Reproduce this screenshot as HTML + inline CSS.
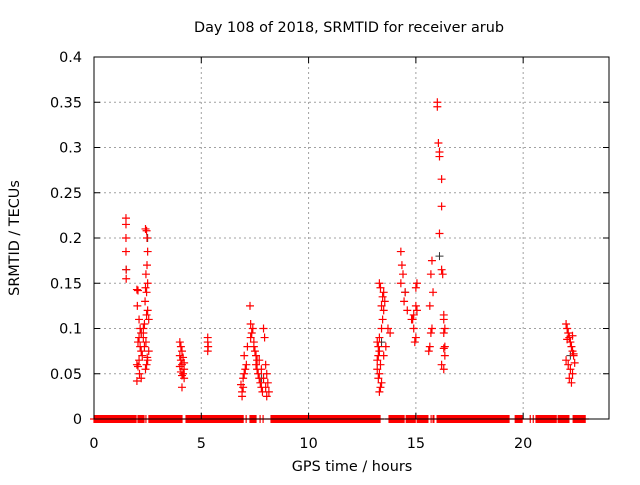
<!DOCTYPE html>
<html><head><meta charset="utf-8"><style>
body{margin:0;background:#fff}
svg text{font-family:"DejaVu Sans","Liberation Sans",sans-serif;font-size:14.4px;fill:#000}
</style></head><body>
<svg id="chart" width="640" height="480" viewBox="0 0 640 480" xmlns="http://www.w3.org/2000/svg">
<rect width="640" height="480" fill="#fff"/>
<text x="349" y="32" text-anchor="middle">Day 108 of 2018, SRMTID for receiver arub</text>
<text x="352" y="471" text-anchor="middle">GPS time / hours</text>
<text transform="translate(19,238) rotate(-90)" text-anchor="middle">SRMTID / TECUs</text>
<g id="grid"></g><g id="marks"></g><g id="axes"></g>
</svg>
<script>
const xTicks=[0,5,10,15,20];
const yTicks=[0,0.05,0.1,0.15,0.2,0.25,0.3,0.35,0.4];
const yTickLabels=["0","0.05","0.1","0.15","0.2","0.25","0.3","0.35","0.4"];
const zeroRanges=[[0,1.96],[2.05,2.33],[2.42,2.42],[2.56,4.1],[4.29,6.95],[7.09,7.09],[7.27,7.55],[7.74,7.74],[7.88,7.88],[8.25,8.86],[8.9,9.46],[9.51,13.33],[13.75,14.45],[14.55,14.97],[15.06,15.57],[15.71,15.71],[15.8,15.85],[15.99,16.32],[16.36,19.35],[19.63,19.95],[20.33,20.33],[20.47,20.47],[20.6,21.54],[21.63,22.14],[22.33,22.89]];
const redT=[1.49,1.49,1.49,1.49,1.5,1.5,2.0,2.05,2.02,2.1,2.15,2.2,2.1,2.05,2.15,2.2,2.25,2.1,2.0,2.05,2.12,2.2,2.0,2.3,2.3,2.35,2.4,2.45,2.47,2.5,2.47,2.42,2.5,2.4,2.45,2.38,2.5,2.45,2.3,2.42,2.35,2.55,2.5,2.4,2.45,2.55,2.48,
4.0,4.05,4.1,4.0,4.15,4.05,4.2,4.1,4.0,4.2,4.05,4.15,4.1,4.2,4.1,5.3,5.3,5.32,5.3,
6.85,6.9,6.95,7.0,7.05,6.9,7.1,7.0,7.15,6.95,7.27,7.3,7.35,7.4,7.45,7.3,7.5,7.55,7.6,7.65,7.7,7.75,7.8,7.7,7.85,7.9,7.95,8.0,7.8,8.05,7.9,8.1,8.0,8.15,8.05,7.6,7.55,7.45,
13.2,13.25,13.3,13.35,13.2,13.3,13.25,13.4,13.35,13.3,13.25,13.2,13.3,13.4,13.45,13.5,13.55,13.4,13.5,13.35,13.45,13.3,13.5,13.6,13.7,13.8,
14.3,14.35,14.4,14.3,14.5,14.45,14.6,14.8,14.9,15.0,14.95,15.05,15.0,14.9,15.0,15.05,14.85,
15.6,15.65,15.7,15.75,15.8,15.65,15.7,15.75,16.0,16.0,16.05,16.1,16.1,16.2,16.2,16.1,16.2,16.25,16.3,16.3,16.35,16.3,16.35,16.3,16.35,16.3,16.2,
22.0,22.05,22.1,22.15,22.2,22.25,22.3,22.35,22.0,22.1,22.2,22.3,22.15,22.25,22.05,22.35,22.4,22.3];
const redV=[0.222,0.215,0.2,0.185,0.165,0.155,0.143,0.142,0.125,0.11,0.1,0.095,0.09,0.085,0.08,0.075,0.07,0.065,0.06,0.058,0.05,0.045,0.042,0.095,0.1,0.105,0.21,0.208,0.2,0.185,0.17,0.16,0.15,0.145,0.14,0.13,0.12,0.115,0.09,0.085,0.08,0.075,0.065,0.055,0.06,0.11,0.068,
0.085,0.08,0.075,0.07,0.068,0.065,0.062,0.06,0.058,0.055,0.052,0.05,0.048,0.045,0.035,0.09,0.085,0.08,0.075,
0.038,0.03,0.045,0.05,0.055,0.025,0.06,0.07,0.08,0.035,0.125,0.105,0.095,0.1,0.085,0.09,0.075,0.06,0.055,0.05,0.045,0.04,0.035,0.065,0.03,0.1,0.09,0.06,0.055,0.05,0.045,0.04,0.035,0.03,0.025,0.065,0.07,0.08,
0.065,0.07,0.075,0.06,0.055,0.05,0.045,0.04,0.035,0.03,0.08,0.085,0.09,0.1,0.11,0.12,0.13,0.125,0.14,0.145,0.135,0.15,0.07,0.08,0.1,0.095,
0.185,0.17,0.16,0.15,0.14,0.13,0.12,0.11,0.1,0.09,0.085,0.12,0.125,0.115,0.145,0.15,0.11,
0.075,0.08,0.095,0.1,0.14,0.125,0.16,0.175,0.35,0.345,0.305,0.295,0.29,0.265,0.235,0.205,0.165,0.16,0.115,0.11,0.1,0.095,0.08,0.078,0.07,0.055,0.06,
0.105,0.1,0.095,0.09,0.085,0.08,0.075,0.07,0.065,0.06,0.055,0.05,0.045,0.04,0.088,0.072,0.062,0.092];
const blackT=[1.5,2.5,2.2,7.8,13.4,14.5,16.1,22.2];
const blackV=[0.165,0.2,0.095,0.045,0.085,0.14,0.18,0.07];
const X0=94,X1=609,Y0=419,Y1=57,XMAX=24,YMAX=0.4;
const sx=t=>X0+(X1-X0)*t/XMAX, sy=v=>Y0-(Y0-Y1)*v/YMAX;
const NS="http://www.w3.org/2000/svg";
function mk(tag,attrs,parent){const e=document.createElementNS(NS,tag);for(const k in attrs)e.setAttribute(k,attrs[k]);parent.appendChild(e);return e;}
const grid=document.getElementById('grid'),marks=document.getElementById('marks'),axes=document.getElementById('axes');
xTicks.forEach(t=>{
 if(t>0){const g=mk('line',{x1:sx(t),x2:sx(t),y1:Y1,y2:Y0,stroke:'#a0a0a0','stroke-dasharray':'2,3'},grid);
 
 }
 const tk=mk('path',{d:`M${sx(t)},${Y0}v-6M${sx(t)},${Y1}v6`,stroke:'#000'},axes);
 
 
 const l=mk('text',{x:sx(t),y:Y0+29,'text-anchor':'middle'},axes);l.textContent=t;
 
 
});
yTicks.forEach((v,i)=>{
 if(v>0&&v<YMAX){const g=mk('line',{x1:X0,x2:X1,y1:sy(v),y2:sy(v),stroke:'#a0a0a0','stroke-dasharray':'2,3'},grid);
 
 }
 const tk=mk('path',{d:`M${X0},${sy(v)}h6M${X1},${sy(v)}h-6`,stroke:'#000'},axes);
 
 
 const l=mk('text',{x:X0-12,y:sy(v)+5,'text-anchor':'end'},axes);l.textContent=yTickLabels[i];
 
 
});
const frame=mk('rect',{x:X0,y:Y1,width:X1-X0,height:Y0-Y1,fill:'none',stroke:'#000'},axes);


function cross(x,y){return `M${x-4},${y}h8M${x},${y-4}v8`;}
let zd='';
zeroRanges.forEach(r=>{for(let t=r[0];t<=r[1]+1e-9;t+=0.02)zd+=cross(sx(t),sy(0));});
const zp=mk('path',{d:zd,stroke:'#ff0000','stroke-width':1.2,fill:'none'},marks);


let bd='';blackT.forEach((t,i)=>bd+=cross(sx(t),sy(blackV[i])));
const bp=mk('path',{d:bd,stroke:'#333','stroke-width':1,fill:'none'},marks);


let rd='';redT.forEach((t,i)=>rd+=cross(sx(t),sy(redV[i])));
const rp=mk('path',{d:rd,stroke:'#ff0000','stroke-width':1.2,fill:'none'},marks);


</script>
</body></html>
